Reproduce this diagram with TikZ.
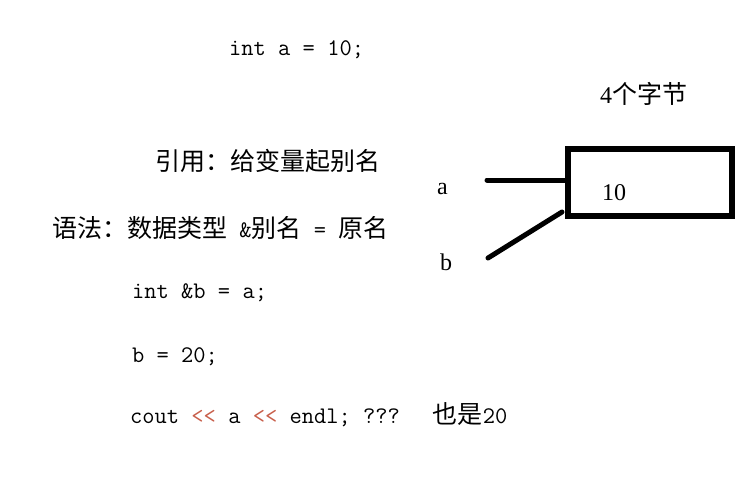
\documentclass[tikz,border=0pt]{standalone}
\usepackage{fontspec}
\newfontfamily\cjk{Noto Sans CJK SC}
\newfontfamily\tms{Liberation Serif}
\newcommand\zh[1]{{\fontsize{25}{26}\cjk #1}}
\definecolor{oprd}{RGB}{200,95,75}
\begin{document}
\begin{tikzpicture}[x=1pt,y=-1pt,
  code/.style={anchor=base west,inner sep=0pt,font=\fontsize{23.8}{26}\ttfamily},
  ser/.style={anchor=base west,inner sep=0pt,font=\fontsize{24}{26}\tms},
  thickln/.style={line width=5pt,line cap=round}]
\useasboundingbox (0,0) rectangle (748,501);
\node[code] (l1) at (229,55) {int a = 10;};
\node[code] (l2) at (155,170) {\zh{引用：给变量起别名}};
\node[code] (l3) at (52,237) {\zh{语法：数据类型} \&\zh{别名} = \zh{原名}};
\node[code] (l4) at (132,298) {int \&b = a;};
\node[code] (l5) at (132,362) {b = 20;};
\node[code] (l6) at (130,423) {cout \textcolor{oprd}{<<} a \textcolor{oprd}{<<} endl; ???\hspace{33pt}\zh{也是}20};
\node[ser] (bytes) at (600,103) {4\zh{个字节}};
\node[draw,line width=5.5pt,minimum width=164pt,minimum height=67pt,inner sep=0pt] (box) at (650,182.5) {};
\node[ser] (val) at (602,200) {10};
\node[ser] (la) at (437,194) {a};
\node[ser] (lb) at (440,270) {b};
\coordinate (a0) at (487,180);
\coordinate (b0) at (488,258);
\coordinate (b1) at (562,212);
\draw[thickln] (a0) -- (a0 -| box.west);
\draw[thickln] (b0) -- (b1);
\end{tikzpicture}
\end{document}
